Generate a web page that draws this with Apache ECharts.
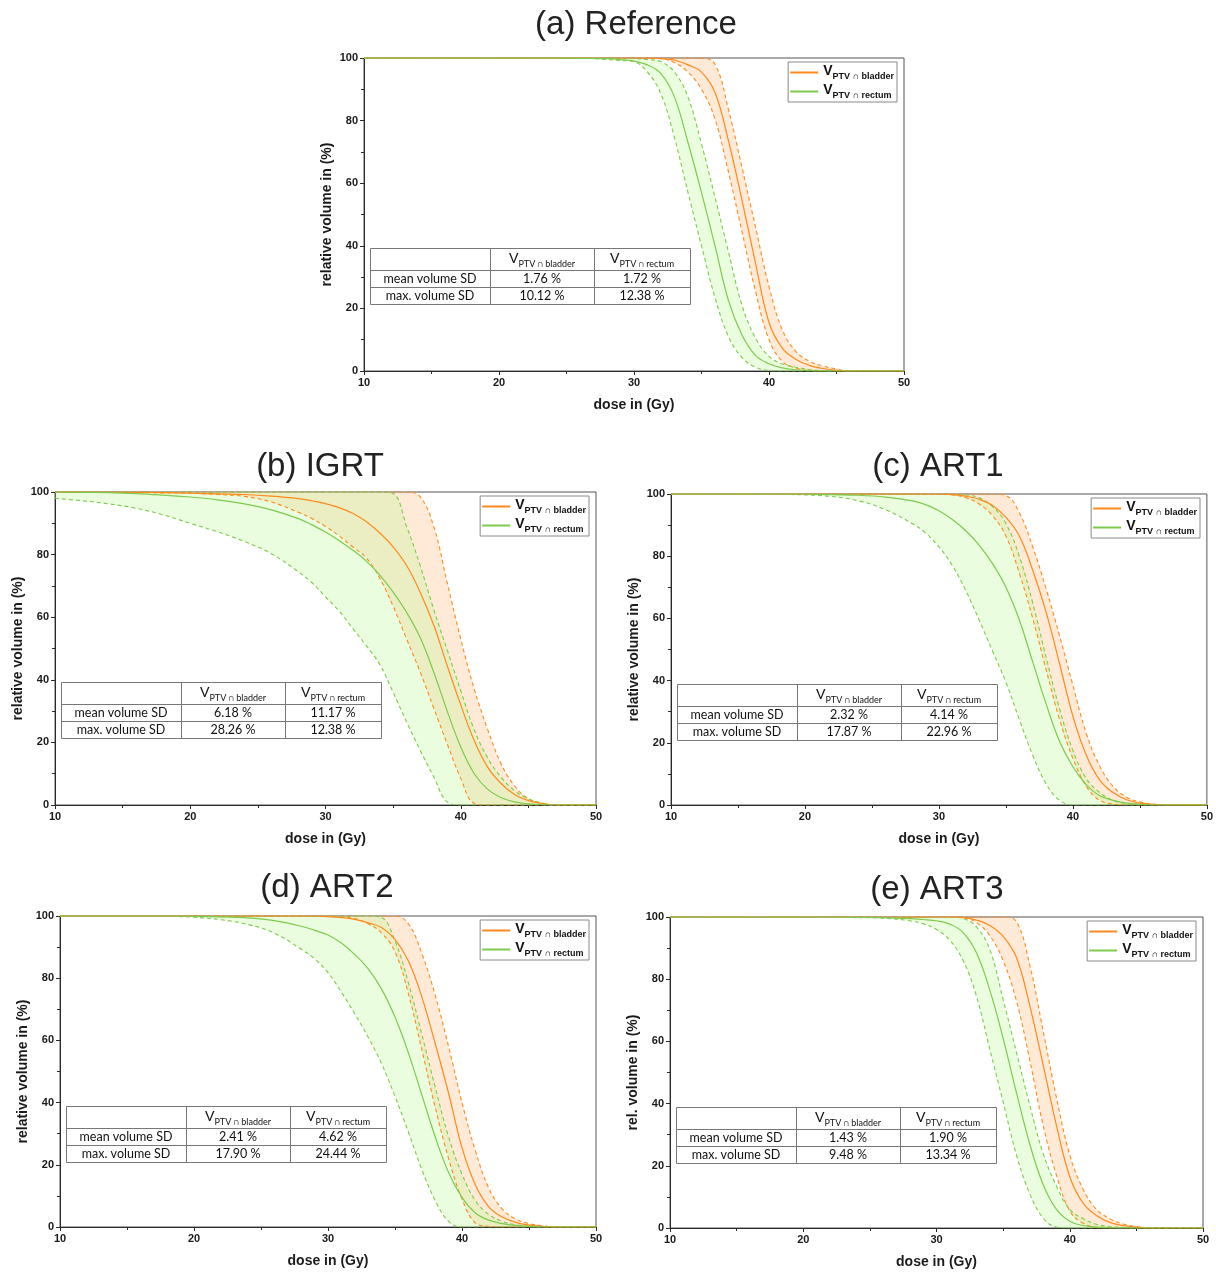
<!DOCTYPE html>
<html>
<head>
<meta charset="utf-8">
<script src="https://cdn.jsdelivr.net/npm/echarts@6/dist/echarts.min.js"></script>
<style>html,body{margin:0;padding:0;background:#fff}#c{width:1216px;height:1272px}</style>
</head>
<body>
<div id="c"></div>
<script>
// ---------------- data ----------------
const DOSE = [10,12,14,16,18,20,22,24,26,28,29,30,31,32,33,34,35,36,37,38,39,40,41,42,43,44,45,46,47,48,50];

const REF_BLADDER_MEAN = [100,100,100,100,100,100,100,100,100,100,100,100,100,99.8,99.3,97.8,95.5,89,73.5,54.5,34.5,15.5,7.2,3.7,1.8,0.8,0.2,0,0,0,0];
const REF_BLADDER_HIGH = [100,100,100,100,100,100,100,100,100,100,100,100,100,100,100,100,100,98,83.5,65,46,27,13,6.2,3.1,1.6,0.6,0,0,0,0];
const REF_BLADDER_LOW  = [100,100,100,100,100,100,100,100,100,100,100,100,100,99.8,98.5,95.5,90,80.5,63.5,44.5,25.5,10,3,0.9,0.2,0,0,0,0,0,0];
const REF_RECTUM_MEAN  = [100,100,100,100,100,100,100,100,99.9,99.8,99.5,99,97.8,95,87.5,73,57,40,22.5,11.5,5,2.3,1,0.4,0.1,0,0,0,0,0,0];
const REF_RECTUM_HIGH  = [100,100,100,100,100,100,100,100,100,100,100,99.8,99.5,98.8,95.5,87.5,72.5,55.5,38,21,10.5,4.7,2.2,1.2,0.5,0.1,0,0,0,0,0];
const REF_RECTUM_LOW   = [100,100,100,100,100,100,100,100,100,99.5,99.2,98.8,95.5,88.5,74.5,57,40,23.5,11,4.3,1.2,0.2,0,0,0,0,0,0,0,0,0];

const IGRT_BLADDER_MEAN = [100,100,100,99.9,99.8,99.6,99.4,99.2,98.7,97.9,97.2,96.3,95,93.2,90.6,87,82.5,76.5,68,57.5,44.5,32,20.5,12,6.8,3.3,1.4,0.5,0,0,0];
const IGRT_BLADDER_HIGH = [100,100,100,100,100,100,100,100,100,100,100,100,100,100,100,100,100,100,98.5,89,71,53,37,24,13,6,2,0.5,0,0,0];
const IGRT_BLADDER_LOW  = [100,100,99.9,99.8,99.7,99.6,99.2,98.6,96.8,93.5,91.5,89,86,82.5,79,72.5,63.5,53,42.5,31,19.5,8.5,0.5,0,0,0,0,0,0,0,0];
const IGRT_RECTUM_MEAN  = [100,99.9,99.8,99.5,99,98.4,97.5,96.2,94.3,91.5,89.5,87.2,84.5,81.5,78,73.5,68,61.5,53.5,42.5,30,18.5,10,5,2.3,1,0.4,0.1,0,0,0];
const IGRT_RECTUM_HIGH  = [100,100,100,100,100,100,100,100,100,100,100,100,100,100,100,100,99.5,89,76.5,62.5,49.5,36.5,24,15,8.8,4.5,2,0.6,0,0,0];
const IGRT_RECTUM_LOW   = [98,97.2,96.2,94.8,92.7,90,87.3,84.2,80.3,74.5,71,66.5,62,56.5,51,45,36,26.5,17.5,9,1,0,0,0,0,0,0,0,0,0,0];

const ART1_BLADDER_MEAN = [100,100,100,100,100,100,100,100,100,100,100,100,99.8,99.3,98.3,96.3,92.5,86.5,75.5,62,45.5,28.5,16,8,4,1.7,0.6,0.2,0,0,0];
const ART1_BLADDER_HIGH = [100,100,100,100,100,100,100,100,100,100,100,100,100,100,100,100,99.5,94,83,69.5,54.5,38.5,23,12.5,6,2.5,1,0.3,0,0,0];
const ART1_BLADDER_LOW  = [100,100,100,100,100,100,100,100,100,100,100,100,99.7,98.8,96.8,93,86.5,74.5,60,43.5,27.5,15,6,1.5,0.3,0,0,0,0,0,0];
const ART1_RECTUM_MEAN  = [100,100,100,100,100,100,99.8,99.6,99,97.8,96.6,94.6,91.8,88.2,83.6,77.6,70,59.5,46,32.5,20.5,12.3,6.5,3,1.5,0.6,0.2,0,0,0,0];
const ART1_RECTUM_HIGH  = [100,100,100,100,100,100,100,100,100,100,100,100,99.9,99.7,98.8,96,90.5,80,65,47.5,31,17.5,8.5,4,1.5,0.5,0.1,0,0,0,0];
const ART1_RECTUM_LOW   = [100,100,100,100,99.9,99.7,99.2,97.8,95,90.5,87.5,83,77,69,59.5,49.5,39.5,27.5,16,6.8,1.5,0,0,0,0,0,0,0,0,0,0];

const ART2_BLADDER_MEAN = [100,100,100,100,100,100,100,100,100,100,100,99.8,99.5,98.9,97.8,96.3,92.5,85.5,74,59,43,25.5,13.5,6.5,3.2,1.5,0.6,0.2,0,0,0];
const ART2_BLADDER_HIGH = [100,100,100,100,100,100,100,100,100,100,100,100,100,100,100,100,100,97.5,88,74.5,58,40,24.5,12.5,5.8,2.6,1.1,0.4,0,0,0];
const ART2_BLADDER_LOW  = [100,100,100,100,100,100,100,100,100,100,100,100,99.8,99.2,97.5,94.5,88.5,75,57,38.5,22,9,1.3,0.2,0,0,0,0,0,0,0];
const ART2_RECTUM_MEAN  = [100,100,100,100,100,99.9,99.7,99.4,98.5,96.7,95.4,93.9,91.3,87.6,83,76.5,67.5,56,42.5,29,17.5,9.5,4.5,2.2,1.1,0.5,0.2,0,0,0,0];
const ART2_RECTUM_HIGH  = [100,100,100,100,100,100,100,100,100,100,100,100,100,100,100,99.5,92,78.5,62,45,29,17,8.5,4,1.8,0.7,0.2,0,0,0,0];
const ART2_RECTUM_LOW   = [100,100,100,100,99.9,99.6,98.8,97.3,94.5,89.3,86.2,81.8,75.5,68.5,61,52.5,42,30.5,18.5,8.5,1.8,0,0,0,0,0,0,0,0,0,0];

const ART3_BLADDER_MEAN = [100,100,100,100,100,100,100,100,100,100,100,100,100,99.8,99,97.3,93.8,87,71.5,52.5,33,16.5,8,4,1.8,0.8,0.3,0,0,0,0];
const ART3_BLADDER_HIGH = [100,100,100,100,100,100,100,100,100,100,100,100,100,100,100,100,100,98.5,84.5,63.5,42,23.5,12.5,6,3,1.3,0.5,0.1,0,0,0];
const ART3_BLADDER_LOW  = [100,100,100,100,100,100,100,100,100,100,100,100,100,99.8,98.2,94,86,73,54,33,17,5.5,1.5,0.2,0,0,0,0,0,0,0];
const ART3_RECTUM_MEAN  = [100,100,100,100,100,100,100,99.9,99.8,99.5,99.2,98.8,97.7,95,88.5,76.5,61,43.5,27,14,6,2.2,0.8,0.3,0.1,0,0,0,0,0,0];
const ART3_RECTUM_HIGH  = [100,100,100,100,100,100,100,100,100,100,100,100,100,99.5,96.8,89.5,73.5,56.5,39.5,24,13.5,6,3,1.2,0.5,0.2,0,0,0,0,0];
const ART3_RECTUM_LOW   = [100,100,100,100,100,100,99.9,99.8,99.6,98.8,97.8,96,92.5,86,74.5,57.5,40.5,23.5,11,3.2,0.3,0,0,0,0,0,0,0,0,0,0];

const PANEL_TITLES = ['(a) Reference', '(b) IGRT', '(c) ART1', '(d) ART2', '(e) ART3'];
const Y_NAMES = ['relative volume in (%)', 'relative volume in (%)', 'relative volume in (%)', 'relative volume in (%)', 'rel. volume in (%)'];
const X_NAME = 'dose in (Gy)';
const MEAN_SD_BLADDER = [1.76, 6.18, 2.32, 2.41, 1.43];
const MEAN_SD_RECTUM  = [1.72, 11.17, 4.14, 4.62, 1.90];
const MAX_SD_BLADDER  = [10.12, 28.26, 17.87, 17.90, 9.48];
const MAX_SD_RECTUM   = [12.38, 12.38, 22.96, 24.44, 13.34];
const ROW_LABELS = ['mean volume SD', 'max. volume SD'];
const STRUCTURES = ['bladder', 'rectum'];

// ---------------- layout / style ----------------
const LAYOUT = [
  {left:364, top:58,  width:540, height:313, tx:636, ty:25},
  {left:55,  top:492, width:541, height:313, tx:320, ty:467},
  {left:671, top:494, width:536, height:311, tx:938, ty:467},
  {left:60,  top:916, width:536, height:311, tx:327, ty:888},
  {left:670, top:917, width:533, height:311, tx:937, ty:890}
];
const PANELS = [
  {bladder:{mean:REF_BLADDER_MEAN, high:REF_BLADDER_HIGH, low:REF_BLADDER_LOW}, rectum:{mean:REF_RECTUM_MEAN, high:REF_RECTUM_HIGH, low:REF_RECTUM_LOW}},
  {bladder:{mean:IGRT_BLADDER_MEAN, high:IGRT_BLADDER_HIGH, low:IGRT_BLADDER_LOW}, rectum:{mean:IGRT_RECTUM_MEAN, high:IGRT_RECTUM_HIGH, low:IGRT_RECTUM_LOW}},
  {bladder:{mean:ART1_BLADDER_MEAN, high:ART1_BLADDER_HIGH, low:ART1_BLADDER_LOW}, rectum:{mean:ART1_RECTUM_MEAN, high:ART1_RECTUM_HIGH, low:ART1_RECTUM_LOW}},
  {bladder:{mean:ART2_BLADDER_MEAN, high:ART2_BLADDER_HIGH, low:ART2_BLADDER_LOW}, rectum:{mean:ART2_RECTUM_MEAN, high:ART2_RECTUM_HIGH, low:ART2_RECTUM_LOW}},
  {bladder:{mean:ART3_BLADDER_MEAN, high:ART3_BLADDER_HIGH, low:ART3_BLADDER_LOW}, rectum:{mean:ART3_RECTUM_MEAN, high:ART3_RECTUM_HIGH, low:ART3_RECTUM_LOW}}
];

const ORANGE = '#FF8A1C', GREEN = '#7CCB4C';
const ORANGE_FILL = 'rgba(252,160,70,0.22)', GREEN_FILL = 'rgba(190,250,150,0.3)';
const FONT = '"Liberation Sans", Arial, sans-serif';
const TFONT = 'Lato, "Liberation Sans", sans-serif';
const SMOOTH = 0.4;
const AX = '#2a2a2a';

const chart = echarts.init(document.getElementById('c'), null, {renderer:'canvas'});
const grids = [], xAxes = [], yAxes = [], series = [], legends = [], elements = [];

function rows(vals) { return vals.map((v, i) => [v, DOSE[i]]); }

function addGroup(k, g, color, fill, name, zb) {
  const stack = 'band' + k + name;
  const common = {type:'line', xAxisIndex:k, yAxisIndex:k, symbol:'none', showSymbol:false,
                  smooth:SMOOTH, encode:{x:1, y:0}, silent:true, animation:false, itemStyle:{color}};
  series.push(Object.assign({}, common, {name:name + ' low', stack, stackStrategy:'all',
    data:rows(g.low), lineStyle:{color, width:1.1, type:[4,3]}, z:5}));
  series.push(Object.assign({}, common, {name:name + ' band', stack, stackStrategy:'all',
    data:g.high.map((h, i) => [h - g.low[i], DOSE[i]]), lineStyle:{width:0, opacity:0},
    areaStyle:{color:fill, opacity:1}, z:zb}));
  series.push(Object.assign({}, common, {name:name + ' high',
    data:rows(g.high), lineStyle:{color, width:1.1, type:[4,3]}, z:5}));
  series.push(Object.assign({}, common, {name:name,
    data:rows(g.mean), lineStyle:{color, width:1.2}, z:6}));
}

const subRich = (size, weight, fam) => ({
  v:{fontFamily:fam, fontWeight:weight, fontSize:size, fill:'#111', color:'#111', verticalAlign:'top', lineHeight:17},
  s:{fontFamily:fam, fontWeight:weight, fontSize:9, fill:'#111', color:'#111', verticalAlign:'bottom', lineHeight:17}
});

PANELS.forEach((p, k) => {
  const L = LAYOUT[k];
  grids.push({left:L.left, top:L.top, width:L.width, height:L.height, show:true,
              borderColor:'#555', borderWidth:1, backgroundColor:'transparent'});
  xAxes.push({gridIndex:k, type:'value', min:10, max:50, interval:10,
    axisLine:{show:true, onZero:false, lineStyle:{color:AX, width:1}},
    axisTick:{show:true, length:4, lineStyle:{color:AX}},
    minorTick:{show:true, splitNumber:2, length:3, lineStyle:{color:AX}},
    splitLine:{show:false},
    axisLabel:{fontFamily:FONT, fontWeight:'bold', fontSize:11, color:'#1a1a1a', margin:6},
    name:X_NAME, nameLocation:'middle', nameGap:27,
    nameTextStyle:{fontFamily:FONT, fontWeight:'bold', fontSize:14, color:'#1a1a1a'}});
  yAxes.push({gridIndex:k, type:'value', min:0, max:100, interval:20,
    axisLine:{show:true, onZero:false, lineStyle:{color:AX, width:1}},
    axisTick:{show:true, length:4, lineStyle:{color:AX}},
    minorTick:{show:true, splitNumber:2, length:3, lineStyle:{color:AX}},
    splitLine:{show:false},
    axisLabel:{fontFamily:FONT, fontWeight:'bold', fontSize:11, color:'#1a1a1a', margin:6},
    name:Y_NAMES[k], nameLocation:'middle', nameGap:30,
    nameTextStyle:{fontFamily:FONT, fontWeight:'bold', fontSize:14, color:'#1a1a1a'}});
  addGroup(k, p.bladder, ORANGE, ORANGE_FILL, 'bladder', 2);
  addGroup(k, p.rectum, GREEN, GREEN_FILL, 'rectum', 3);

  legends.push({orient:'vertical', right:1216 - (L.left + L.width) + 7, top:L.top + 4,
    data:['bladder', 'rectum'], selectedMode:false, icon:'rect',
    formatter:n => '{v|V}{s|PTV \u2229 ' + n + '}',
    itemWidth:28, itemHeight:2, itemGap:2, padding:[2, 3, 2, 2],
    borderColor:'#8a8a8a', borderWidth:1, backgroundColor:'#fff', z:10,
    textStyle:{rich:subRich(14, 'bold', FONT)}});

  // title
  elements.push({type:'text', x:L.tx, y:L.ty, z:20,
    style:{text:PANEL_TITLES[k], font:'33px "Liberation Sans", Arial, sans-serif', fill:'#222',
           align:'center', verticalAlign:'middle', textAlign:'center', textVerticalAlign:'middle'}});

  // table
  const x0 = L.left + 6, y0 = L.top + 190;
  const cw = [120, 104, 96], rh = [22, 17, 17];
  const W = cw[0] + cw[1] + cw[2], H = rh[0] + rh[1] + rh[2];
  const line = (x1, y1, x2, y2) => ({type:'line', z:21, shape:{x1, y1, x2, y2}, style:{stroke:'#777', lineWidth:1}});
  elements.push({type:'rect', z:20, shape:{x:x0 + 0.5, y:y0 + 0.5, width:W, height:H}, style:{fill:'#fff', stroke:'#777', lineWidth:1}});
  elements.push(line(x0 + 0.5, y0 + rh[0] + 0.5, x0 + W + 0.5, y0 + rh[0] + 0.5));
  elements.push(line(x0 + 0.5, y0 + rh[0] + rh[1] + 0.5, x0 + W + 0.5, y0 + rh[0] + rh[1] + 0.5));
  elements.push(line(x0 + cw[0] + 0.5, y0 + 0.5, x0 + cw[0] + 0.5, y0 + H + 0.5));
  elements.push(line(x0 + cw[0] + cw[1] + 0.5, y0 + 0.5, x0 + cw[0] + cw[1] + 0.5, y0 + H + 0.5));
  const cx = [x0 + cw[0] / 2, x0 + cw[0] + cw[1] / 2, x0 + cw[0] + cw[1] + cw[2] / 2];
  STRUCTURES.forEach((s, j) => elements.push({type:'text', z:22, x:cx[j + 1], y:y0 + 12,
    style:{text:'{v|V}{s|PTV \u2229 ' + s + '}', rich:subRich(14, 'normal', TFONT),
           align:'center', verticalAlign:'middle', textAlign:'center', textVerticalAlign:'middle'}}));
  const vals = [[MEAN_SD_BLADDER[k], MEAN_SD_RECTUM[k]], [MAX_SD_BLADDER[k], MAX_SD_RECTUM[k]]];
  ROW_LABELS.forEach((lab, r) => {
    const yc = y0 + rh[0] + rh[1] * r + rh[1] / 2 + 0.5;
    const cells = [lab, vals[r][0].toFixed(2) + ' %', vals[r][1].toFixed(2) + ' %'];
    cells.forEach((t, c) => elements.push({type:'text', z:22, x:cx[c], y:yc,
      style:{text:t, font:'12.5px ' + TFONT, fill:'#111', align:'center', verticalAlign:'middle',
             textAlign:'center', textVerticalAlign:'middle'}}));
  });
});

chart.setOption({
  backgroundColor:'#fff',
  animation:false,
  grid:grids, xAxis:xAxes, yAxis:yAxes, series, legend:legends,
  graphic:{elements}
});
</script>
</body>
</html>
